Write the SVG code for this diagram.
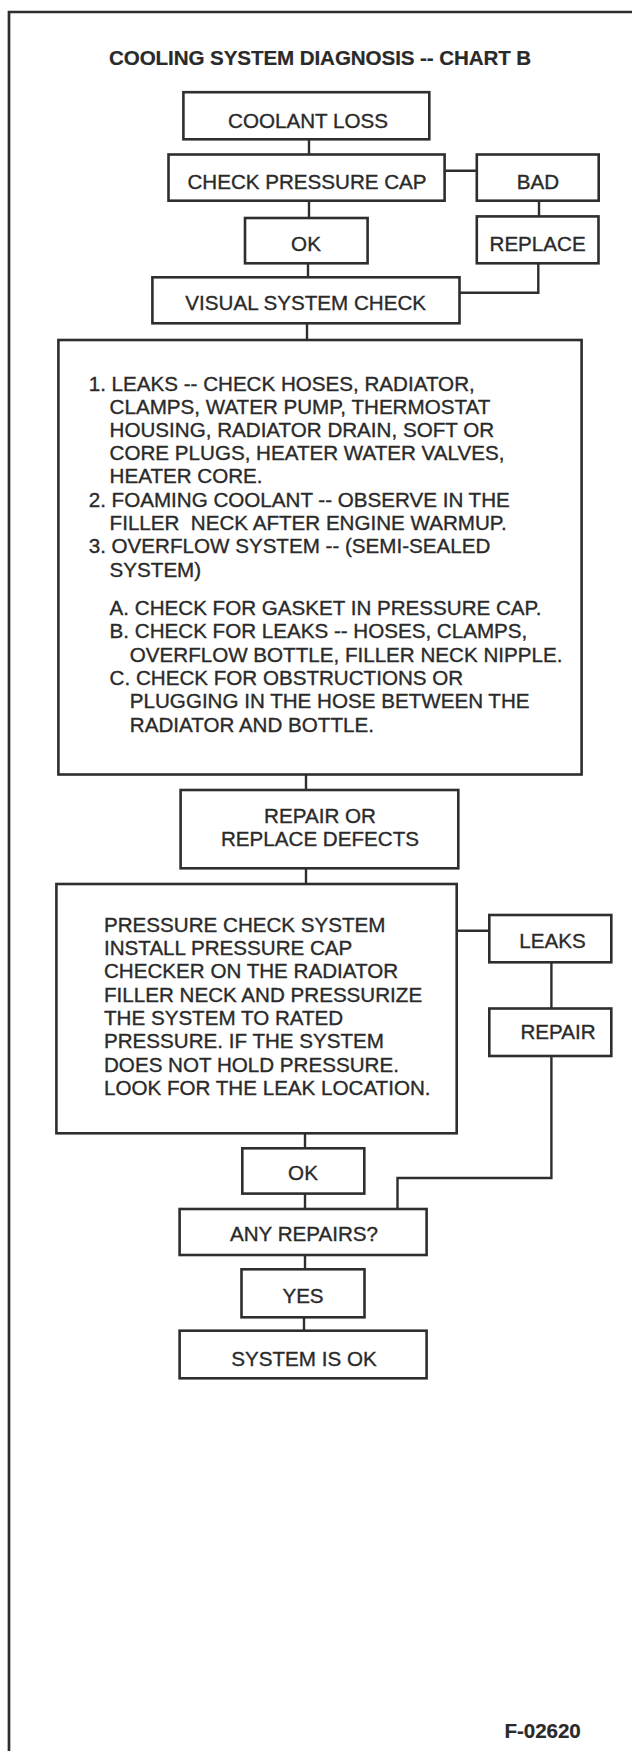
<svg xmlns="http://www.w3.org/2000/svg" width="632" height="1751" viewBox="0 0 632 1751">
<style>
.bx{fill:#fff;stroke:#2e2e2e;stroke-width:2.6}
.ln{fill:none;stroke:#2e2e2e;stroke-width:2.4}
.fr{fill:none;stroke:#2e2e2e;stroke-width:2.7}
text{font-family:"Liberation Sans",Arial,sans-serif;font-size:20.6px;fill:#2a2a2a;stroke:#2a2a2a;stroke-width:0.35px}
.c{text-anchor:middle}
.t{font-weight:bold;letter-spacing:-0.1px;stroke-width:0.2px}
</style>
<rect width="632" height="1751" fill="#fff"/>
<path class="fr" d="M9,1751 V12 H632"/>
<text id="title" class="t" x="109" y="65">COOLING SYSTEM DIAGNOSIS -- CHART B</text>
<g id="connectors">
<path class="ln" d="M309,139 V154"/>
<path class="ln" d="M444.6,170.7 H476.8"/>
<path class="ln" d="M539,201.7 V216.7"/>
<path class="ln" d="M309,201.7 V218.3"/>
<path class="ln" d="M308,263.3 V277.3"/>
<path class="ln" d="M538.3,263.3 V292.8 H459.5"/>
<path class="ln" d="M307,323.3 V340"/>
<path class="ln" d="M306,774 V790"/>
<path class="ln" d="M306,868.3 V884"/>
<path class="ln" d="M456.7,930.8 H489"/>
<path class="ln" d="M551.4,962.7 V1009"/>
<path class="ln" d="M551.4,1056 V1178 H397.5 V1209.3"/>
<path class="ln" d="M305,1133.3 V1148.3"/>
<path class="ln" d="M305,1194 V1209.3"/>
<path class="ln" d="M305,1255 V1269.3"/>
<path class="ln" d="M304,1317.3 V1330.7"/>
</g>
<g id="coolant-loss"><rect class="bx" x="183.4" y="92.2" width="245.9" height="47.1"/><text class="c" x="308" y="127.7">COOLANT LOSS</text></g>
<g id="check-pressure-cap"><rect class="bx" x="168.5" y="154.5" width="276.1" height="46.2"/><text class="c" x="307" y="189.3">CHECK PRESSURE CAP</text></g>
<g id="bad"><rect class="bx" x="476.8" y="154.5" width="121.9" height="46.2"/><text class="c" x="538" y="189.3">BAD</text></g>
<g id="replace"><rect class="bx" x="476.8" y="216.4" width="121.7" height="46.9"/><text class="c" x="537.6" y="250.7">REPLACE</text></g>
<g id="ok1"><rect class="bx" x="245" y="218" width="122.6" height="45.3"/><text class="c" x="306" y="250.7">OK</text></g>
<g id="visual-system-check"><rect class="bx" x="152.4" y="277.3" width="307.1" height="46"/><text class="c" x="305.7" y="309.8">VISUAL SYSTEM CHECK</text></g>
<g id="visual-details"><rect class="bx" x="58.4" y="340" width="523.2" height="434.5"/>
<text x="88.7" y="391">1. LEAKS -- CHECK HOSES, RADIATOR,</text>
<text x="109.6" y="413.7">CLAMPS, WATER PUMP, THERMOSTAT</text>
<text x="109.6" y="437">HOUSING, RADIATOR DRAIN, SOFT OR</text>
<text x="109.6" y="460.3">CORE PLUGS, HEATER WATER VALVES,</text>
<text x="109.6" y="483">HEATER CORE.</text>
<text x="88.7" y="506.7">2. FOAMING COOLANT -- OBSERVE IN THE</text>
<text x="109.6" y="530" xml:space="preserve">FILLER  NECK AFTER ENGINE WARMUP.</text>
<text x="88.7" y="553.3">3. OVERFLOW SYSTEM -- (SEMI-SEALED</text>
<text x="109.6" y="576.7">SYSTEM)</text>
<text x="109.6" y="615">A. CHECK FOR GASKET IN PRESSURE CAP.</text>
<text x="109.6" y="638.3">B. CHECK FOR LEAKS -- HOSES, CLAMPS,</text>
<text x="129.8" y="661.7">OVERFLOW BOTTLE, FILLER NECK NIPPLE.</text>
<text x="109.6" y="685">C. CHECK FOR OBSTRUCTIONS OR</text>
<text x="129.8" y="708.3">PLUGGING IN THE HOSE BETWEEN THE</text>
<text x="129.8" y="731.7">RADIATOR AND BOTTLE.</text>
</g>
<g id="repair-or-replace"><rect class="bx" x="180.6" y="790" width="277.7" height="78.3"/><text class="c" x="320" y="822.7">REPAIR OR</text><text class="c" x="320" y="846">REPLACE DEFECTS</text></g>
<g id="pressure-check"><rect class="bx" x="56.4" y="884" width="400.3" height="249.3"/>
<text x="104" y="931.7">PRESSURE CHECK SYSTEM</text>
<text x="104" y="955">INSTALL PRESSURE CAP</text>
<text x="104" y="978.3">CHECKER ON THE RADIATOR</text>
<text x="104" y="1001.7">FILLER NECK AND PRESSURIZE</text>
<text x="104" y="1025">THE SYSTEM TO RATED</text>
<text x="104" y="1048.3">PRESSURE. IF THE SYSTEM</text>
<text x="104" y="1071.7">DOES NOT HOLD PRESSURE.</text>
<text x="104" y="1095">LOOK FOR THE LEAK LOCATION.</text>
</g>
<g id="leaks"><rect class="bx" x="489.3" y="915" width="122" height="47.3"/><text class="c" x="552.5" y="948.3">LEAKS</text></g>
<g id="repair"><rect class="bx" x="489.3" y="1008.5" width="122" height="47.5"/><text class="c" x="558" y="1039.3">REPAIR</text></g>
<g id="ok2"><rect class="bx" x="242.3" y="1148.3" width="122" height="45.3"/><text class="c" x="303" y="1180">OK</text></g>
<g id="any-repairs"><rect class="bx" x="179.6" y="1209" width="247" height="46"/><text class="c" x="304" y="1240.7">ANY REPAIRS?</text></g>
<g id="yes"><rect class="bx" x="241.5" y="1269.3" width="123" height="48"/><text class="c" x="303" y="1302.7">YES</text></g>
<g id="system-ok"><rect class="bx" x="179.6" y="1330.7" width="247" height="47.6"/><text class="c" x="304" y="1366">SYSTEM IS OK</text></g>
<text id="figure-id" class="t" x="504.6" y="1738.3">F-02620</text>
</svg>
